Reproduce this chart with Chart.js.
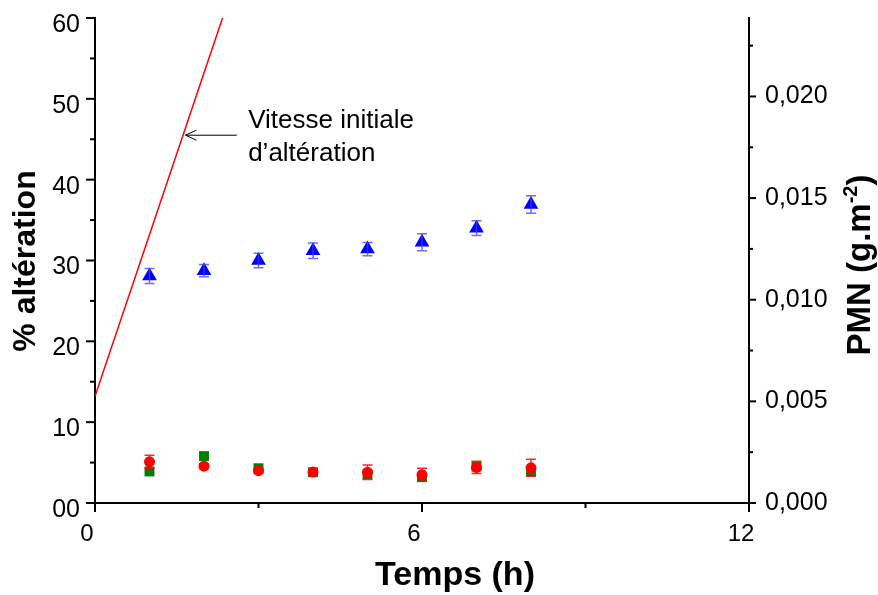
<!DOCTYPE html>
<html>
<head>
<meta charset="utf-8">
<script src="https://cdn.jsdelivr.net/npm/chart.js@4.4.1/dist/chart.umd.min.js"></script>
<style>
  html, body { margin: 0; padding: 0; background: #fff; }
  #wrap { width: 878px; height: 595px; position: relative; }
</style>
</head>
<body>
<div id="wrap"><canvas id="chart"></canvas></div>
<script>
// --- data ---
const HOURS = [1, 2, 3, 4, 5, 6, 7, 8];
const PMN = [0.01117, 0.01143, 0.01193, 0.01241, 0.01249, 0.01283, 0.01352, 0.01468];
const PMN_ERR = [0.00037, 0.00030, 0.00036, 0.00038, 0.00033, 0.00042, 0.00036, 0.00043];
const ALT_RED = [5.1, 4.55, 4.0, 3.85, 3.8, 3.5, 4.4, 4.35];
const ALT_RED_ERR = [0.8, 0.3, 0.3, 0.3, 0.9, 0.8, 0.75, 1.05];
const ALT_GREEN = [3.9, 5.8, 4.3, 3.8, 3.55, 3.2, 4.5, 3.9];
const RATE_X = [0, 2.34];
const RATE_Y = [13.2, 60];
const X_LABELS = [0, 6, 12];
const PMN_MAX = 0.02386;

const FONT = "'Liberation Sans', Arial, sans-serif";
Chart.defaults.font.family = FONT;
Chart.defaults.color = '#000';

const pts = (xs, ys) => xs.map((x, i) => ({ x: x, y: ys[i] }));

function errBars(chart, idx, errs, color) {
  const meta = chart.getDatasetMeta(idx);
  const ys = chart.scales[meta.yAxisID];
  const data = chart.data.datasets[idx].data;
  const ctx = chart.ctx;
  ctx.save();
  ctx.strokeStyle = color;
  ctx.lineWidth = 1.5;
  meta.data.forEach((el, i) => {
    const t = ys.getPixelForValue(data[i].y + errs[i]);
    const b = ys.getPixelForValue(data[i].y - errs[i]);
    ctx.beginPath();
    ctx.moveTo(el.x, t); ctx.lineTo(el.x, b);
    ctx.moveTo(el.x - 5, t); ctx.lineTo(el.x + 5, t);
    ctx.moveTo(el.x - 5, b); ctx.lineTo(el.x + 5, b);
    ctx.stroke();
  });
  ctx.restore();
}

function tickMarks(ctx, scale, isMajor, majorLen, minorLen) {
  scale.ticks.forEach(t => {
    const p = scale.getPixelForValue(t.value);
    const len = isMajor(t.value) ? majorLen : minorLen;
    ctx.beginPath();
    if (scale.isHorizontal()) {
      ctx.moveTo(p, scale.top); ctx.lineTo(p, scale.top + len);
    } else if (scale.position === 'left') {
      ctx.moveTo(scale.right, p); ctx.lineTo(scale.right - len, p);
    } else {
      ctx.moveTo(scale.left, p); ctx.lineTo(scale.left + len, p);
    }
    ctx.stroke();
  });
}

const isMul = (v, s) => Math.abs(v / s - Math.round(v / s)) < 1e-6;

// fixed axis boxes, no extra label overhang padding
const fitBox = (w, h) => s => {
  if (w) s.width = w;
  if (h) s.height = h;
  s.paddingTop = 0; s.paddingBottom = 0;
  s.paddingLeft = 0; s.paddingRight = 0;
};

const decor = {
  id: 'decor',
  afterDatasetsDraw(chart) {
    errBars(chart, 0, PMN_ERR, 'rgba(60,60,255,0.75)');
    errBars(chart, 2, ALT_RED_ERR, 'rgba(255,0,0,0.85)');
  },
  afterDraw(chart) {
    const ctx = chart.ctx;
    const { x, y, y2 } = chart.scales;
    ctx.save();
    ctx.strokeStyle = '#000';
    ctx.lineWidth = 2;
    tickMarks(ctx, x, v => X_LABELS.includes(v), 9, 5);
    tickMarks(ctx, y, v => isMul(v, 10), 9, 5);
    tickMarks(ctx, y2, v => isMul(v, 0.005), 7, 4);

    // annotation
    ctx.lineWidth = 1;
    const ay = y.getPixelForValue(45.5);
    const ax0 = x.getPixelForValue(2.6);
    const ax1 = x.getPixelForValue(1.66);
    ctx.beginPath();
    ctx.moveTo(ax0, ay); ctx.lineTo(ax1, ay);
    ctx.moveTo(ax1 + 11, ay - 5); ctx.lineTo(ax1, ay); ctx.lineTo(ax1 + 11, ay + 5);
    ctx.stroke();
    ctx.fillStyle = '#000';
    ctx.font = '26px ' + FONT;
    ctx.textAlign = 'left';
    ctx.textBaseline = 'alphabetic';
    const tx = x.getPixelForValue(2.81);
    ctx.fillText('Vitesse initiale', tx, y.getPixelForValue(46.4));
    ctx.fillText('d\u2019alt\u00e9ration', tx, y.getPixelForValue(42.3));

    // axis titles
    ctx.font = 'bold 34px ' + FONT;
    ctx.textAlign = 'center';
    ctx.fillText('Temps (h)', 455, 585);

    ctx.save();
    ctx.translate(35, 261);
    ctx.rotate(-Math.PI / 2);
    ctx.font = 'bold 32px ' + FONT;
    ctx.fillText('% alt\u00e9ration', 0, 0);
    ctx.restore();

    ctx.save();
    ctx.translate(870, 265);
    ctx.rotate(-Math.PI / 2);
    const big = 'bold 33px ' + FONT, small = 'bold 20px ' + FONT;
    ctx.font = big; const w1 = ctx.measureText('PMN (g.m').width;
    ctx.font = small; const w2 = ctx.measureText('-2').width;
    ctx.font = big; const w3 = ctx.measureText(')').width;
    let px = -(w1 + w2 + w3) / 2;
    ctx.textAlign = 'left';
    ctx.font = big; ctx.fillText('PMN (g.m', px, 0); px += w1;
    ctx.font = small; ctx.fillText('-2', px, -13); px += w2;
    ctx.font = big; ctx.fillText(')', px, 0);
    ctx.restore();

    ctx.restore();
  }
};

const axisBase = {
  grid: { display: false, drawTicks: false },
  border: { display: true, color: '#000', width: 2 }
};

new Chart(document.getElementById('chart'), {
  type: 'scatter',
  data: {
    datasets: [
      {
        label: 'PMN',
        data: pts(HOURS, PMN),
        yAxisID: 'y2',
        pointStyle: 'triangle',
        pointRadius: 8.5,
        backgroundColor: '#0000ff',
        borderColor: '#0000ff',
        borderWidth: 0,
        order: 1
      },
      {
        label: 'vert',
        data: pts(HOURS, ALT_GREEN),
        yAxisID: 'y',
        pointStyle: 'rect',
        pointRadius: 7,
        backgroundColor: '#008000',
        borderColor: '#008000',
        borderWidth: 0,
        order: 3
      },
      {
        label: 'rouge',
        data: pts(HOURS, ALT_RED),
        yAxisID: 'y',
        pointStyle: 'circle',
        pointRadius: 5.5,
        backgroundColor: '#ff0000',
        borderColor: '#ff0000',
        borderWidth: 0,
        order: 2
      },
      {
        label: 'vitesse initiale',
        data: pts(RATE_X, RATE_Y),
        yAxisID: 'y',
        showLine: true,
        pointRadius: 0,
        borderColor: '#ff0000',
        borderWidth: 1.5,
        order: 0
      }
    ]
  },
  options: {
    responsive: true,
    maintainAspectRatio: false,
    animation: false,
    events: [],
    layout: { padding: { top: 18, left: 0, right: 0, bottom: 0 } },
    plugins: { legend: { display: false }, tooltip: { enabled: false } },
    scales: {
      x: {
        ...axisBase,
        type: 'linear',
        min: 0, max: 12,
        afterFit: fitBox(0, 92),
        ticks: {
          stepSize: 3, autoSkip: false, maxRotation: 0,
          font: { size: 24 }, padding: 17, labelOffset: -8,
          callback: v => X_LABELS.includes(v) ? String(v) : ''
        }
      },
      y: {
        ...axisBase,
        position: 'left',
        min: 0, max: 60,
        afterFit: fitBox(95, 0),
        ticks: {
          stepSize: 5, autoSkip: false,
          font: { size: 25 }, padding: 15, labelOffset: 7,
          callback: v => isMul(v, 10) ? (v === 0 ? '00' : String(v)) : ''
        }
      },
      y2: {
        ...axisBase,
        position: 'right',
        min: 0, max: PMN_MAX,
        afterFit: fitBox(129, 0),
        ticks: {
          stepSize: 0.0025, includeBounds: false, autoSkip: false,
          font: { size: 25 }, padding: 16,
          callback: v => isMul(v, 0.005) ? v.toFixed(3).replace('.', ',') : ''
        }
      }
    }
  },
  plugins: [decor]
});
</script>
</body>
</html>
